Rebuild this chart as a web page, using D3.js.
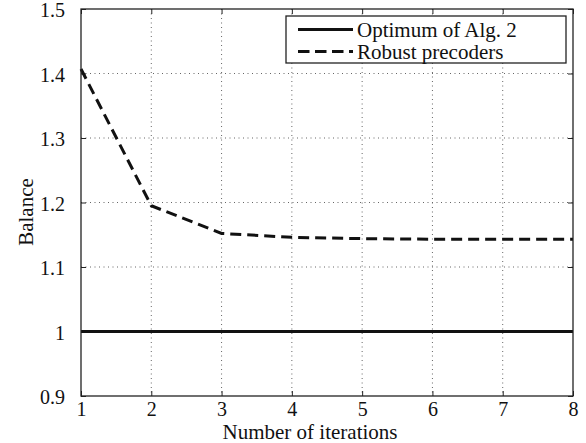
<!DOCTYPE html>
<html><head><meta charset="utf-8">
<script src="https://cdn.jsdelivr.net/npm/d3@7"></script>
<style>body{margin:0;background:#fff}svg{display:block}</style>
</head><body>
<svg id="c" width="586" height="443"></svg>
<script>
const iterations = [1, 2, 3, 4, 5, 6, 7, 8];
const optimum = [1.0, 1.0, 1.0, 1.0, 1.0, 1.0, 1.0, 1.0];
const robust = [1.407, 1.195, 1.152, 1.146, 1.144, 1.143, 1.143, 1.143];
const xTicks = [1, 2, 3, 4, 5, 6, 7, 8];
const yTicks = [0.9, 1.0, 1.1, 1.2, 1.3, 1.4, 1.5];
const yTickLabels = ["0.9", "1", "1.1", "1.2", "1.3", "1.4", "1.5"];
const seriesNames = ["Optimum of Alg. 2", "Robust precoders"];

const L = 81, R = 573, T = 9, B = 396;
const FS = 20, FT = 21;
const svg = d3.select("#c");
const font = "Liberation Serif";
const x = d3.scaleLinear().domain([1, 8]).range([L, R]);
const y = d3.scaleLinear().domain([0.9, 1.5]).range([B, T]);

const g = svg.append("g");
xTicks.slice(1, -1).forEach(v => g.append("line").attr("x1", x(v)).attr("x2", x(v)).attr("y1", T).attr("y2", B)
  .attr("stroke", "#666").attr("stroke-width", 1).attr("stroke-dasharray", "1,3.5"));
yTicks.slice(1, -1).forEach(v => g.append("line").attr("x1", L).attr("x2", R).attr("y1", y(v)).attr("y2", y(v))
  .attr("stroke", "#666").attr("stroke-width", 1).attr("stroke-dasharray", "1,3.5"));

const ax = svg.append("g").attr("transform", `translate(0,${B})`)
  .call(d3.axisBottom(x).tickValues(xTicks).tickFormat(d3.format("d")).tickSizeInner(-5).tickSizeOuter(0).tickPadding(0));
const ay = svg.append("g").attr("transform", `translate(${L},0)`)
  .call(d3.axisLeft(y).tickValues(yTicks).tickFormat((d, i) => yTickLabels[i]).tickSizeInner(-5).tickSizeOuter(0).tickPadding(16));
const axt = svg.append("g").attr("transform", `translate(0,${T})`)
  .call(d3.axisTop(x).tickValues(xTicks).tickFormat("").tickSizeInner(-5).tickSizeOuter(0));
const ayr = svg.append("g").attr("transform", `translate(${R},0)`)
  .call(d3.axisRight(y).tickValues(yTicks).tickFormat("").tickSizeInner(-5).tickSizeOuter(0));
[ax, ay, axt, ayr].forEach(a => {
  a.attr("font-family", null).attr("font-size", null);
  a.select(".domain").remove();
  a.selectAll("line").attr("stroke", "#222");
  a.selectAll("text").style("font-family", font).style("font-size", FS + "px").attr("fill", "#111");
});
ax.selectAll("text").attr("y", 20).attr("dy", null);
ay.selectAll("text").attr("dy", "0.38em");

const line = d3.line().x((d, i) => x(iterations[i])).y(d => y(d));
svg.append("path").datum(optimum).attr("d", line).attr("fill", "none").attr("stroke", "#111").attr("stroke-width", 3);
svg.append("path").datum(robust).attr("d", line).attr("fill", "none").attr("stroke", "#111").attr("stroke-width", 3)
  .attr("stroke-dasharray", "11,6");

svg.append("rect").attr("x", L).attr("y", T).attr("width", R - L).attr("height", B - T)
  .attr("fill", "none").attr("stroke", "#222").attr("stroke-width", 1.3);

const lg = svg.append("g");
lg.append("rect").attr("x", 286).attr("y", 16).attr("width", 280).attr("height", 47)
  .attr("fill", "#fff").attr("stroke", "#222").attr("stroke-width", 1.3);
[0, 1].forEach(i => {
  const base = 37 + i * 22;
  const yy = base - 7.5;
  lg.append("line").attr("x1", 298).attr("x2", 353).attr("y1", yy).attr("y2", yy)
    .attr("stroke", "#111").attr("stroke-width", 3).attr("stroke-dasharray", i ? "11.5,5.5" : null);
  lg.append("text").attr("x", 357).attr("y", base).text(seriesNames[i])
    .style("font-family", font).style("font-size", FT + "px").attr("fill", "#111");
});

svg.append("text").attr("x", 310).attr("y", 439).attr("text-anchor", "middle")
  .style("font-family", font).style("font-size", FT + "px").attr("fill", "#111").text("Number of iterations");
svg.append("text").attr("transform", `translate(33,212) rotate(-90)`).attr("text-anchor", "middle")
  .style("font-family", font).style("font-size", FT + "px").attr("fill", "#111").text("Balance");
</script>
</body></html>
